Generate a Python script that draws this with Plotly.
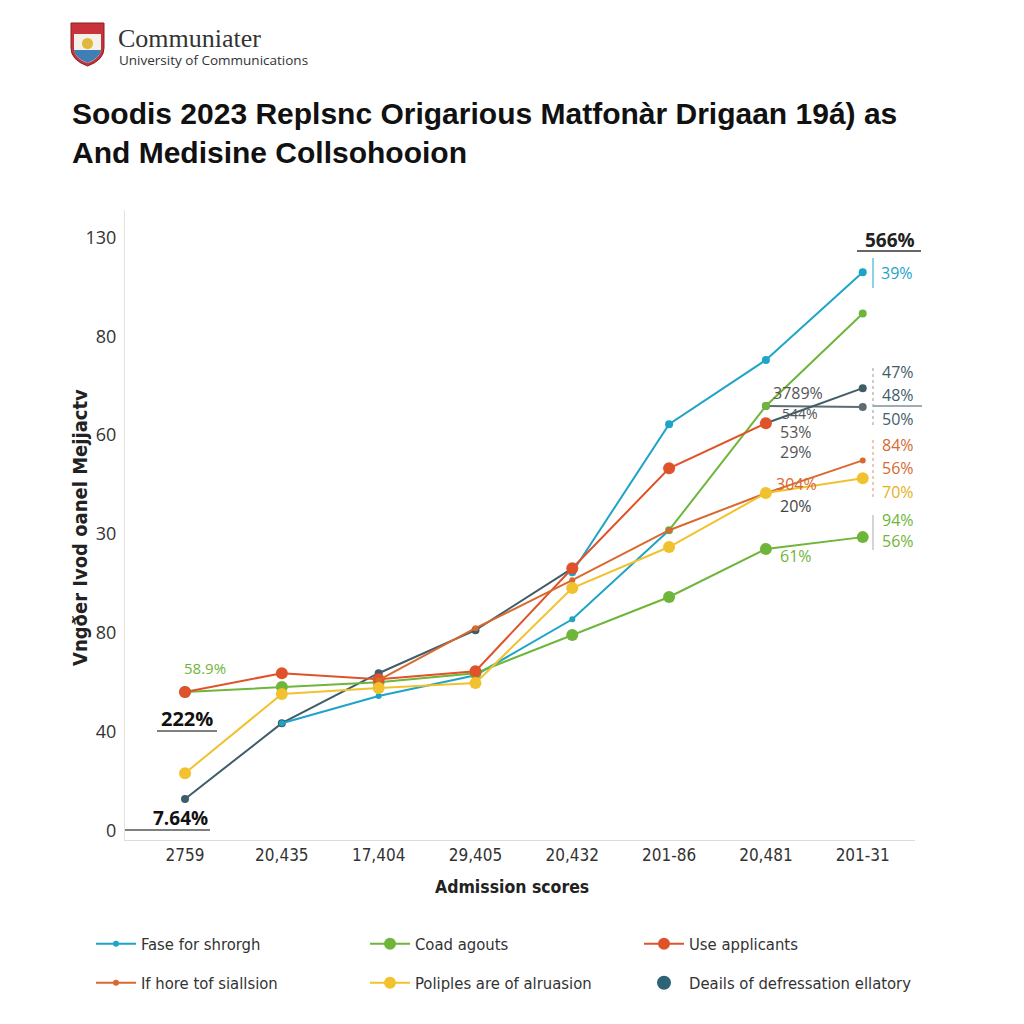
import plotly.graph_objects as go

# ---------------- data ----------------
categories = ["2759", "20,435", "17,404", "29,405", "20,432", "201-86", "20,481", "201-31"]
y_tick_vals = [0, 20, 40, 60, 80, 100, 120]
y_tick_text = ["0", "40", "80", "30", "60", "80", "130"]

fase_for_shrorgh = [None, 21.8, 27.3, 31.5, 42.8, 60.8, None, None]
fase_upper = [None, None, None, None, 52.3, 82.2, 95.2, 112.9]
coad_agouts = [28.1, 29.1, 30.1, 31.9, 39.6, 47.3, 57.0, 59.4]
coad_upper = [None, None, None, None, None, 60.8, 85.9, 104.6]
use_applicants = [28.1, 31.9, 30.7, 32.3, 53.1, 73.3, 82.4, None]
if_hore = [None, None, 30.5, 41.0, 50.7, 60.8, 68.3, 74.9]
poliples = [11.7, 27.7, 28.9, 29.9, 49.1, 57.4, 68.3, 71.3]
deails = [6.5, 21.8, 31.9, 40.6, 53.1, None, None, None]
deails_end = [None, None, None, None, None, None, 82.4, 89.5]
grey_end = [None, None, None, None, None, None, 85.9, 85.7]

CYAN = "#1ea4c8"
GREEN = "#6fb53a"
RED = "#e0522a"
ORANGE = "#d8692f"
YELLOW = "#f2c12e"
SLATE = "#3f5d69"
SLATE_DOT = "#2c6476"
GREY = "#5e6c72"

# plot area in screenshot pixels (page body has an 8px margin)
L, R, T, B = 125, 915, 210, 840
OFF = 8


def px(x):
    return (x - L) / (R - L)


def py(y):
    return (B - y) / (B - T)


fig = go.Figure()


def add(y, color, name=None, size=8, legend="legend", show=True, width=2):
    fig.add_trace(go.Scatter(
        x=categories, y=y, mode="lines+markers", name=name,
        line=dict(color=color, width=width),
        marker=dict(color=color, size=size),
        showlegend=show and name is not None, legend=legend,
        connectgaps=False, hoverinfo="skip"))


add(grey_end, GREY, show=False)
add(deails_end, SLATE, show=False)
add(deails, SLATE, show=False)
add(coad_upper, GREEN, show=False)
add(fase_upper, CYAN, show=False)
add(fase_for_shrorgh, CYAN, "Fase for shrorgh", size=6, legend="legend")
add(coad_agouts, GREEN, "Coad agouts", size=12, legend="legend")
add(use_applicants, RED, "Use applicants", size=12, legend="legend")
add(if_hore, ORANGE, "If hore tof siallsion", size=6, legend="legend2")
add(poliples, YELLOW, "Poliples are of alruasion", size=12, legend="legend2")
fig.add_trace(go.Scatter(x=[None], y=[None], mode="markers", name="Deails of defressation ellatory",
                         marker=dict(color=SLATE_DOT, size=14), legend="legend2", showlegend=True))

TICKFONT = "Liberation Sans Narrow, DejaVu Sans Condensed, Arial Narrow, sans-serif"
SANS = "Open Sans, Liberation Sans, sans-serif"

legend_common = dict(orientation="h", xanchor="left", yanchor="middle", itemwidth=40,
                     entrywidth=219, entrywidthmode="pixels",
                     font=dict(family=TICKFONT, size=16.5, color="#333"), bgcolor="rgba(0,0,0,0)")

fig.update_layout(
    width=1024, height=1024,
    margin=dict(l=L - OFF, r=1024 - (R - OFF), t=T - OFF, b=1024 - (B - OFF)),
    paper_bgcolor="white", plot_bgcolor="white",
    font=dict(family=SANS, color="#333"),
    xaxis=dict(type="category", range=[-0.62, 7.54], showgrid=False, zeroline=False,
               showline=True, linecolor="#dcdcdc", linewidth=1,
               tickfont=dict(family=TICKFONT, size=17, color="#333"), ticks="", ticklabelstandoff=0),
    yaxis=dict(range=[-1.8, 125.5], tickvals=y_tick_vals, ticktext=y_tick_text,
               showgrid=False, zeroline=False, showline=True, linecolor="#e2e2e2", linewidth=1,
               tickfont=dict(family=SANS, size=18, color="#333"), ticks="", ticklabelstandoff=4),
    legend=dict(x=px(91), y=py(944), **legend_common),
    legend2=dict(x=px(91), y=py(983), **legend_common),
)

ann = []
shapes = []


def text(x, y, s, color="#444", size=16, bold=False, family=SANS, xanchor="center", angle=0):
    ann.append(dict(x=px(x), y=py(y), xref="paper", yref="paper", text=f"<b>{s}</b>" if bold else s,
                    showarrow=False, xanchor=xanchor, yanchor="middle", textangle=angle,
                    font=dict(color=color, size=size, family=family)))


def line(x0, y0, x1, y1, color="#555", width=1.5, dash="solid"):
    shapes.append(dict(type="line", xref="paper", yref="paper", x0=px(x0), y0=py(y0), x1=px(x1), y1=py(y1),
                       line=dict(color=color, width=width, dash=dash), layer="above"))


# header
text(116, 38, "Communiater", "#333", 26, family="Liberation Serif, serif", xanchor="left")
text(117, 60, "University of Communications", "#333", 13.5, family=SANS, xanchor="left")
shapes.append(dict(type="path", xref="paper", yref="paper", layer="above",
                   path=f"M {px(71)} {py(23)} L {px(104)} {py(23)} L {px(104)} {py(48)} Q {px(104)} {py(60)} {px(87.5)} {py(66)} "
                        f"Q {px(71)} {py(60)} {px(71)} {py(48)} Z",
                   fillcolor="#c8323a", line=dict(color="#8a1e25", width=1)))
shapes.append(dict(type="path", xref="paper", yref="paper", layer="above",
                   path=f"M {px(74)} {py(34)} L {px(101)} {py(34)} L {px(101)} {py(48)} Q {px(101)} {py(58)} {px(87.5)} {py(63)} "
                        f"Q {px(74)} {py(58)} {px(74)} {py(48)} Z",
                   fillcolor="#f4f1e8", line=dict(width=0)))
shapes.append(dict(type="path", xref="paper", yref="paper", layer="above",
                   path=f"M {px(74)} {py(50)} L {px(101)} {py(50)} Q {px(100)} {py(58)} {px(87.5)} {py(63)} "
                        f"Q {px(75)} {py(58)} {px(74)} {py(50)} Z",
                   fillcolor="#3f7fb5", line=dict(width=0)))
shapes.append(dict(type="circle", xref="paper", yref="paper", layer="above",
                   x0=px(82), y0=py(38), x1=px(93), y1=py(49), fillcolor="#e0b83a", line=dict(width=0)))

# title
TITLE_FONT = "Liberation Sans, Arial, sans-serif"
text(70, 113, "Soodis 2023 Replsnc Origarious Matfonàr Drigaan 19á) as", "#111", 30, True, TITLE_FONT, "left")
text(70, 152, "And Medisine Collsohooion", "#111", 30, True, TITLE_FONT, "left")

# axis titles
text(512, 887, "Admission scores", "#222", 17.5, True, TICKFONT)
text(80, 528, "Vngðer Ivod oanel Mejjactv", "#222", 20, True, TICKFONT, angle=-90)

# right-side labels
text(890, 240, "566%", "#222", 19, True)
line(857, 251, 921, 251, "#666", 2)
text(897, 273, "39%", CYAN, 16)
line(873, 258, 873, 288, CYAN, 1)
text(898, 372, "47%", SLATE, 16)
text(898, 395, "48%", SLATE, 16)
text(898, 419, "50%", SLATE, 16)
line(873, 406, 922, 406, SLATE, 1.2)
line(873, 368, 873, 428, "#999", 1, "dot")
text(898, 445, "84%", ORANGE, 16)
text(898, 468, "56%", ORANGE, 16)
text(898, 492, "70%", "#e6b022", 16)
line(873, 440, 873, 500, "#e09070", 1, "dot")
text(898, 520, "94%", GREEN, 16)
text(898, 541, "56%", GREEN, 16)
line(873, 515, 873, 550, "#aaa", 1)

# middle labels
text(798, 393, "3789%", "#555", 16)
text(800, 413, "544%", "#555", 14)
text(796, 432, "53%", "#555", 16)
text(796, 452, "29%", "#555", 16)
text(796, 484, "304%", ORANGE, 16)
text(796, 506, "20%", "#444", 16)
text(796, 556, "61%", GREEN, 16)

# left labels
text(205, 668, "58.9%", GREEN, 15)
text(187, 718, "222%", "#111", 20, True)
line(157, 731, 217, 731, "#555", 1.5)
text(180, 818, "7.64%", "#111", 19, True)
line(125, 830, 210, 830, "#555", 1.5)

fig.update_layout(annotations=ann, shapes=shapes)
fig.write_html("out.html")
